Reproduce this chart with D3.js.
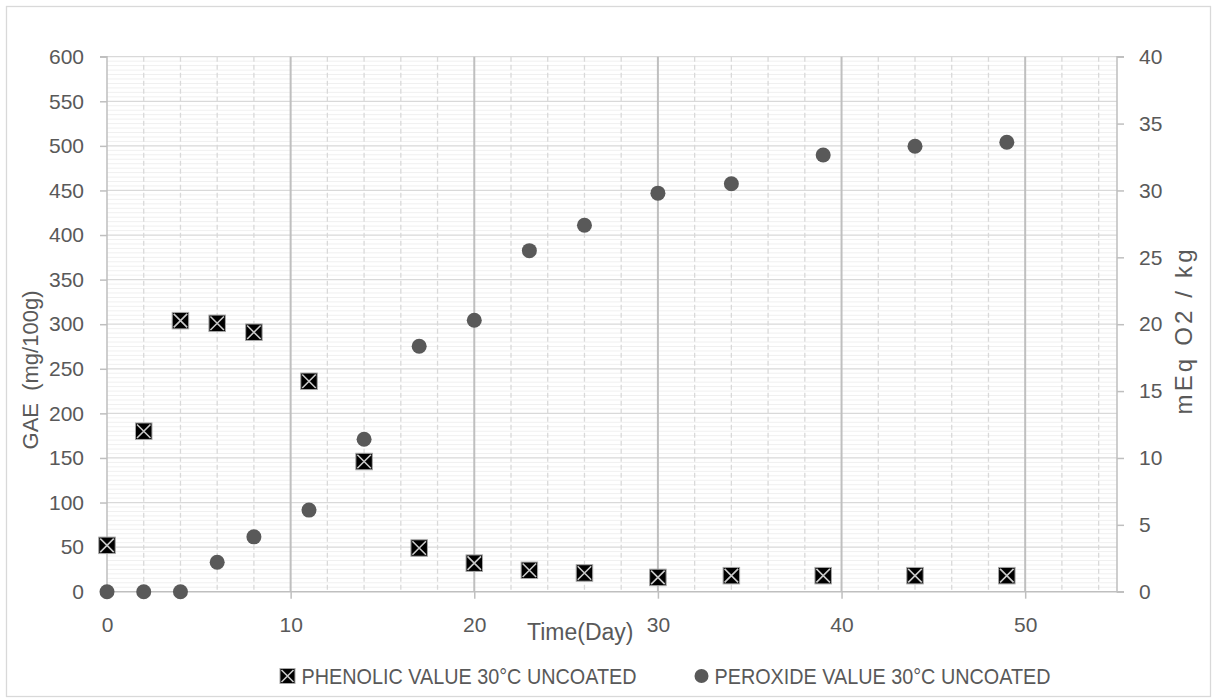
<!DOCTYPE html>
<html>
<head>
<meta charset="utf-8">
<script src="https://cdn.jsdelivr.net/npm/d3@7"></script>
<style>
  html, body { margin: 0; padding: 0; background: #fff; }
  svg { display: block; }
  text { font-family: "Liberation Sans", Arial, sans-serif; fill: #595959; white-space: pre; }
</style>
</head>
<body>
<svg id="chart" width="1219" height="698"></svg>
<script>
// Storage time (days)
const days = [0, 2, 4, 6, 8, 11, 14, 17, 20, 23, 26, 30, 34, 39, 44, 49];
// Total phenolics, GAE (mg/100g) — left axis
const phenolic = [52, 180, 304, 301, 291, 236, 146, 49, 32, 24, 21, 16, 18, 18, 18, 18];
// Peroxide value, mEq O2 / kg — right axis
const peroxide = [0, 0, 0, 2.2, 4.1, 6.1, 11.4, 18.35, 20.3, 25.5, 27.4, 29.8, 30.5, 32.65, 33.3, 33.6];

const xTicks = [0, 10, 20, 30, 40, 50];
const leftTicks = [0, 50, 100, 150, 200, 250, 300, 350, 400, 450, 500, 550, 600];
const rightTicks = [0, 5, 10, 15, 20, 25, 30, 35, 40];

const seriesNames = ["PHENOLIC VALUE 30°C UNCOATED", "PEROXIDE VALUE 30°C UNCOATED"];
const xTitle = "Time(Day)";
const leftTitle = "GAE  (mg/100g)";
const rightTitle = "mEq O2 / kg";

const svg = d3.select("#chart");
const L = 107, R = 1117, T = 56.7, B = 591.7;

const x = d3.scaleLinear().domain([0, 55]).range([L, R]);
const yL = d3.scaleLinear().domain([0, 600]).range([B, T]);
const yR = d3.scaleLinear().domain([0, 40]).range([B, T]);

// outer chart frame
svg.append("rect").attr("x", 6.5).attr("y", 6.5).attr("width", 1204).attr("height", 690)
  .attr("fill", "#fff").attr("stroke", "#d9d9d9").attr("stroke-width", 1.3);

const grid = svg.append("g");

// minor horizontal gridlines every 5
const minorH = d3.range(5, 600, 5).filter(v => v % 50 !== 0);
grid.selectAll(".mh").data(minorH).join("line")
  .attr("x1", L).attr("x2", R).attr("y1", d => yL(d)).attr("y2", d => yL(d))
  .attr("stroke", "#f0f0f0").attr("stroke-width", 1);

// major horizontal gridlines every 50
grid.selectAll(".Mh").data(leftTicks.filter(v => v > 0)).join("line")
  .attr("x1", L).attr("x2", R).attr("y1", d => yL(d)).attr("y2", d => yL(d))
  .attr("stroke", "#d9d9d9").attr("stroke-width", 1.3);

// minor vertical dashed gridlines every 2 days
const minorV = d3.range(2, 55, 2).filter(v => v % 10 !== 0);
grid.selectAll(".mv").data(minorV).join("line")
  .attr("x1", d => x(d)).attr("x2", d => x(d)).attr("y1", T).attr("y2", B)
  .attr("stroke", "#d9d9d9").attr("stroke-width", 1.3).attr("stroke-dasharray", "5,3");

// major vertical gridlines every 10 days
grid.selectAll(".Mv").data(xTicks.filter(v => v > 0)).join("line")
  .attr("x1", d => x(d)).attr("x2", d => x(d)).attr("y1", T).attr("y2", B)
  .attr("stroke", "#bfbfbf").attr("stroke-width", 2);

// axes
const axisColor = "#bfbfbf";
const leftAxis = svg.append("g").attr("transform", `translate(${L},0)`)
  .call(d3.axisLeft(yL).tickValues(leftTicks).tickSize(7).tickPadding(16));
const rightAxis = svg.append("g").attr("transform", `translate(${R},0)`)
  .call(d3.axisRight(yR).tickValues(rightTicks).tickSize(7).tickPadding(15));
const bottomAxis = svg.append("g").attr("transform", `translate(0,${B})`)
  .call(d3.axisBottom(x).tickValues(xTicks).tickSize(7).tickPadding(18));

[leftAxis, rightAxis, bottomAxis].forEach(g => {
  g.select(".domain").attr("stroke", axisColor).attr("stroke-width", 1.5);
  g.selectAll(".tick line").attr("stroke", axisColor).attr("stroke-width", 1.5);
  g.selectAll(".tick text").attr("fill", "#595959").style("font-size", "21px")
    .style("font-family", "'Liberation Sans', Arial, sans-serif");
});
leftAxis.select(".domain").attr("d", `M-7,${T}H0V${B}H-7`);
rightAxis.select(".domain").attr("d", `M7,${T}H0V${B}H7`);
bottomAxis.select(".domain").attr("d", `M${L},0H${R}`);

// axis titles
svg.append("text").attr("x", 527).attr("y", 640).style("font-size", "23px").text(xTitle);
svg.append("text").attr("transform", "translate(38,370) rotate(-90)")
  .attr("text-anchor", "middle").style("font-size", "22px").text(leftTitle);
svg.append("text").attr("transform", "translate(1192,332) rotate(-90)")
  .attr("text-anchor", "middle").style("font-size", "24px")
  .attr("textLength", 165).attr("lengthAdjust", "spacing").text(rightTitle);

// marker drawers
function squareX(g, cx, cy, s) {
  const h = s / 2;
  g.append("rect").attr("x", cx - h).attr("y", cy - h).attr("width", s).attr("height", s)
    .attr("fill", "#000").attr("stroke", "#a6a6a6").attr("stroke-width", 1);
  g.append("path").attr("d", `M${cx - h + 1.5},${cy - h + 1.5}L${cx + h - 1.5},${cy + h - 1.5}M${cx + h - 1.5},${cy - h + 1.5}L${cx - h + 1.5},${cy + h - 1.5}`)
    .attr("stroke", "#c8c8c8").attr("stroke-width", 1.6);
}

// peroxide circles
svg.append("g").selectAll("circle").data(days.map((d, i) => [d, peroxide[i]])).join("circle")
  .attr("cx", d => x(d[0])).attr("cy", d => yR(d[1])).attr("r", 7.5).attr("fill", "#595959");

// phenolic squares
const sq = svg.append("g");
days.forEach((d, i) => squareX(sq, x(d), yL(phenolic[i]), 16.5));

// legend
const lg = svg.append("g");
squareX(lg, 287.5, 676, 15);
lg.append("text").attr("x", 301.5).attr("y", 684).style("font-size", "22px")
  .attr("textLength", 335).attr("lengthAdjust", "spacingAndGlyphs").text(seriesNames[0]);
lg.append("circle").attr("cx", 701.5).attr("cy", 676).attr("r", 7).attr("fill", "#595959");
lg.append("text").attr("x", 714.5).attr("y", 684).style("font-size", "22px")
  .attr("textLength", 336).attr("lengthAdjust", "spacingAndGlyphs").text(seriesNames[1]);
</script>
</body>
</html>
